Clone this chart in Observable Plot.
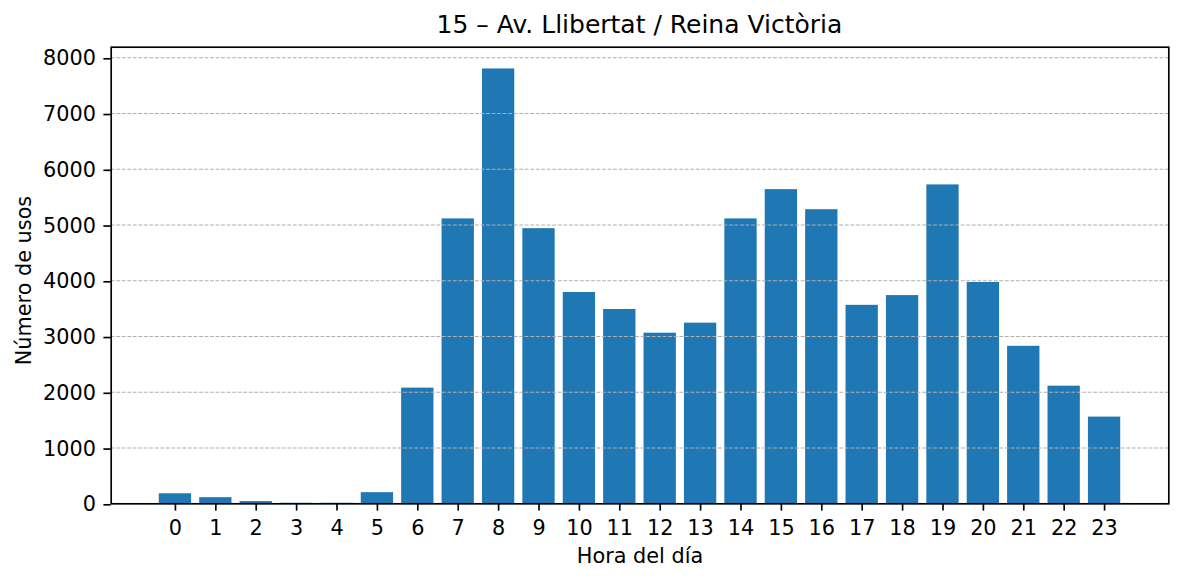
<!DOCTYPE html>
<html>
<head>
<meta charset="utf-8">
<script src="https://cdn.jsdelivr.net/npm/d3@7"></script>
<script src="https://cdn.jsdelivr.net/npm/@observablehq/plot@0.6"></script>
<style>
  html, body { margin: 0; padding: 0; background: #fff; }
  body { font-family: "DejaVu Sans", sans-serif; width: 1184px; height: 581px; overflow: hidden; }
  #head { position: relative; width: 1184px; height: 40px; }
  #title { position: absolute; left: 110.7px; width: 1057.6px; top: 12.2px; text-align: center;
           font-size: 25px; line-height: 25px; color: #000; white-space: nowrap; }
  #chart svg { display: block; }
</style>
</head>
<body>
<div id="head"><div id="title">15 – Av. Llibertat / Reina Victòria</div></div>
<div id="chart"></div>
<script>
const hours = [0,1,2,3,4,5,6,7,8,9,10,11,12,13,14,15,16,17,18,19,20,21,22,23];
const usos  = [180,110,40,10,10,200,2075,5110,7800,4935,3790,3485,3060,3240,5110,5635,5275,3560,3735,5720,3970,2825,2110,1555];
const yTicks = [0,1000,2000,3000,4000,5000,6000,7000,8000];
const xLabel = "Hora del día";
const yLabel = "Número de usos";

const data = hours.map((h, i) => ({hour: h, value: usos[i]}));

const chart = Plot.plot({
  width: 1184,
  height: 541,
  marginTop: 6.7,
  marginBottom: 77.7,
  marginLeft: 110.7,
  marginRight: 15.7,
  style: {fontFamily: "DejaVu Sans", fontSize: "20.8px", background: "white", overflow: "visible", color: "black"},
  x: {type: "linear", domain: [-1.59, 24.59]},
  y: {domain: [0, 8190]},
  marks: [
    Plot.rectY(data, {x1: d => d.hour - 0.4, x2: d => d.hour + 0.4, y1: 0, y2: "value", fill: "#1f77b4"}),
    Plot.gridY(yTicks, {stroke: "#b0b0b0", strokeOpacity: 1, strokeWidth: 1.04, strokeDasharray: "3.85,1.67"}),
    Plot.frame({stroke: "black", strokeWidth: 1.67}),
    Plot.axisX(hours, {tickSize: 7.3, tickPadding: 8.9, strokeWidth: 1.67, tickFormat: d => String(d), fontSize: 20.8, label: null}),
    Plot.axisY(yTicks, {tickSize: 7.3, tickPadding: 8, strokeWidth: 1.67, tickFormat: d => String(d), fontSize: 20.8, label: null, dy: 1}),
    Plot.text([xLabel], {frameAnchor: "bottom", lineAnchor: "top", dy: 44.6, fontSize: 20.8, fill: "black"}),
    Plot.text([yLabel], {frameAnchor: "left", rotate: -90, textAnchor: "middle", lineAnchor: "middle", dx: -86.4, dy: 5, fontSize: 20.8, fill: "black"})
  ]
});
document.getElementById("chart").appendChild(chart);
</script>
</body>
</html>
